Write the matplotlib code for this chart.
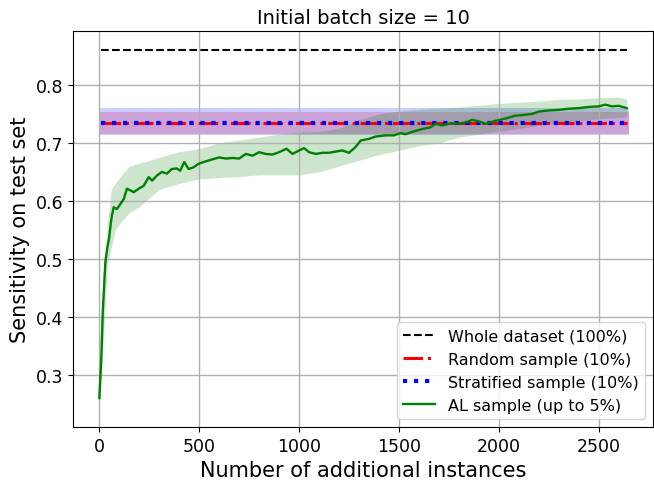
import matplotlib
matplotlib.use("Agg")
import matplotlib.pyplot as plt
import numpy as np

# ---- data ----
title = "Initial batch size = 10"
whole_value = 0.86
random_value = 0.735
random_band = (0.715, 0.754)
strat_value = 0.735
strat_band = (0.714, 0.760)
line_x = [10, 2640]
band_x_ref = [0, 2650]

al_x = [0, 10, 17, 30, 40, 48, 58, 63, 72, 88, 106, 122, 138, 156, 172, 197, 222, 247,
        264, 289, 313, 338, 363, 388, 405, 425, 447, 472, 497, 522, 550, 600, 633, 667,
        700, 733, 767, 800, 833, 867, 900, 937, 967, 1000, 1025, 1050, 1083, 1117, 1150,
        1183, 1217, 1250, 1283, 1308, 1350, 1383, 1433, 1475, 1508, 1533, 1575, 1617,
        1658, 1683, 1717, 1758, 1800, 1842, 1867, 1900, 1933, 1983, 2033, 2083, 2117,
        2167, 2200, 2250, 2300, 2350, 2400, 2450, 2500, 2533, 2567, 2600, 2640]
al_mean = [0.26, 0.33, 0.408, 0.494, 0.52, 0.534, 0.563, 0.575, 0.589, 0.586, 0.595,
           0.603, 0.621, 0.618, 0.615, 0.621, 0.626, 0.641, 0.635, 0.644, 0.650, 0.647,
           0.655, 0.656, 0.652, 0.667, 0.655, 0.658, 0.664, 0.667, 0.670, 0.675, 0.673,
           0.674, 0.673, 0.681, 0.678, 0.684, 0.681, 0.680, 0.684, 0.690, 0.681, 0.687,
           0.691, 0.684, 0.681, 0.683, 0.683, 0.685, 0.687, 0.683, 0.693, 0.704, 0.707,
           0.711, 0.713, 0.713, 0.717, 0.715, 0.720, 0.724, 0.727, 0.733, 0.730, 0.734,
           0.733, 0.736, 0.740, 0.737, 0.733, 0.738, 0.742, 0.747, 0.748, 0.750, 0.754,
           0.756, 0.757, 0.759, 0.760, 0.762, 0.763, 0.766, 0.763, 0.764, 0.760]

band_x = [0, 20, 40, 60, 80, 100, 150, 200, 300, 400, 500, 600, 700, 800, 900, 1000,
          1100, 1200, 1300, 1400, 1500, 1600, 1700, 1800, 1900, 2000, 2100, 2200, 2300,
          2400, 2500, 2600, 2640]
al_upper = [0.27, 0.45, 0.56, 0.62, 0.63, 0.64, 0.66, 0.665, 0.675, 0.685, 0.69, 0.70,
            0.705, 0.71, 0.715, 0.718, 0.72, 0.725, 0.74, 0.75, 0.755, 0.758, 0.76, 0.762,
            0.765, 0.768, 0.77, 0.772, 0.775, 0.776, 0.778, 0.779, 0.776]
al_lower = [0.245, 0.36, 0.49, 0.52, 0.55, 0.56, 0.58, 0.59, 0.62, 0.63, 0.638, 0.64,
            0.642, 0.645, 0.645, 0.645, 0.65, 0.66, 0.67, 0.68, 0.687, 0.695, 0.70, 0.71,
            0.715, 0.72, 0.725, 0.73, 0.735, 0.738, 0.742, 0.744, 0.745]

labels = ["Whole dataset (100%)", "Random sample (10%)",
          "Stratified sample (10%)", "AL sample (up to 5%)"]

fig = plt.figure(figsize=(6.54, 4.85), dpi=100)
ax = fig.add_axes([0.1116, 0.1175, 0.8869, 0.8165])

ax.plot(line_x, [whole_value] * 2, 'k--', lw=1.5, label=labels[0])
ax.fill_between(band_x_ref, [random_band[0]] * 2, [random_band[1]] * 2,
                color='red', alpha=0.2, lw=0)
ax.plot(line_x, [random_value] * 2, color='red', ls='-.', lw=2.2, label=labels[1])
ax.fill_between(band_x_ref, [strat_band[0]] * 2, [strat_band[1]] * 2,
                color='blue', alpha=0.2, lw=0)
ax.plot(line_x, [strat_value] * 2, color='blue', ls=':', lw=3, label=labels[2])
ax.fill_between(band_x, al_lower, al_upper, color='green', alpha=0.2, lw=0)
ax.plot(al_x, al_mean, color='green', lw=1.7, label=labels[3])

ax.set_xlim(-132, 2772)
ax.set_ylim(0.21, 0.893)
ax.set_xticks([0, 500, 1000, 1500, 2000, 2500])
ax.set_yticks([0.3, 0.4, 0.5, 0.6, 0.7, 0.8])
ax.grid(True, color='#b0b0b0', lw=1)
ax.tick_params(labelsize=12.5)
ax.set_xlabel("Number of additional instances", fontsize=15)
ax.set_ylabel("Sensitivity on test set", fontsize=15)
ax.set_title(title, fontsize=14)
ax.legend(loc='lower right', fontsize=11.5)

fig.savefig("out.png", dpi=100)
